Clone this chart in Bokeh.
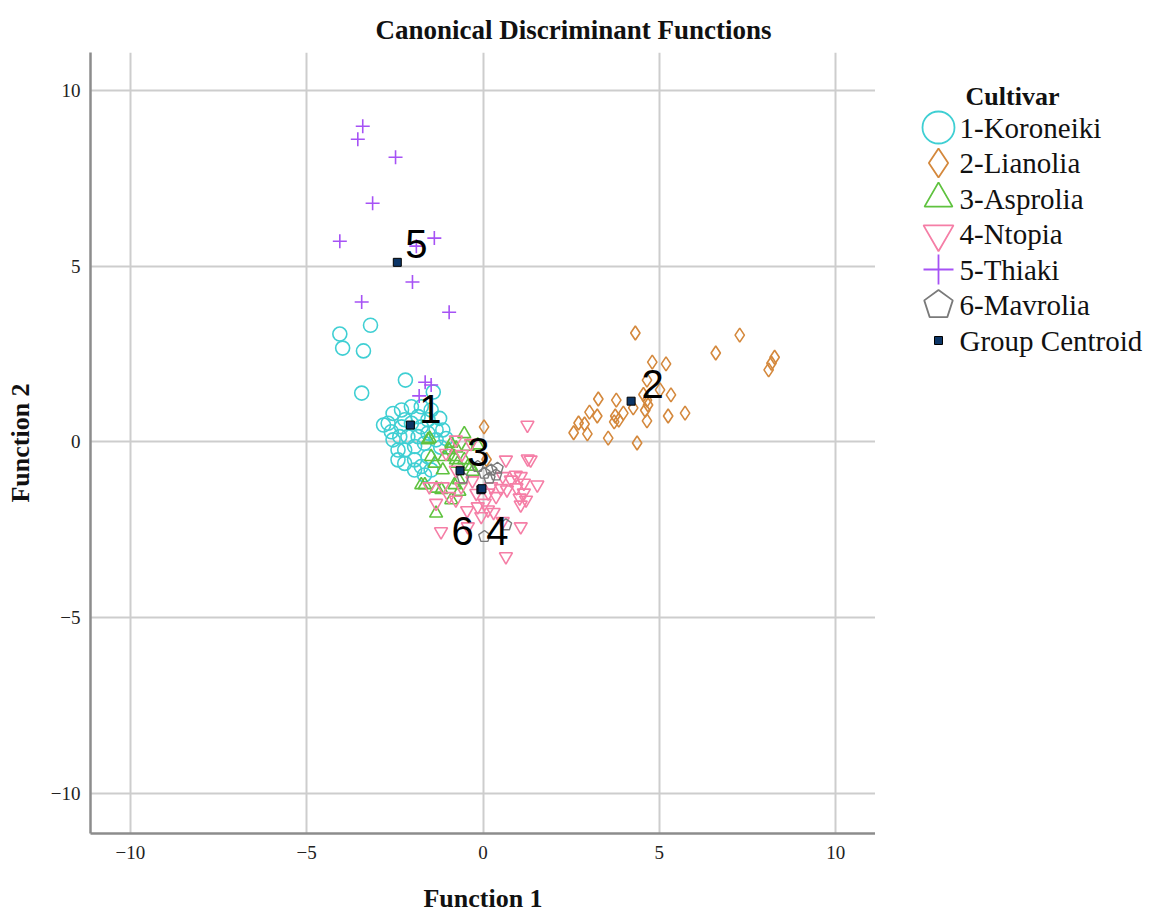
import math
from bokeh.plotting import figure
from bokeh.layouts import row
from bokeh.models import Range1d, FixedTicker
from bokeh.core.properties import value
from bokeh.embed import file_html
from bokeh.resources import INLINE

# ---------------- data ----------------
cultivars = ["1-Koroneiki", "2-Lianolia", "3-Asprolia", "4-Ntopia", "5-Thiaki", "6-Mavrolia"]
legend_extra = "Group Centroid"
ticks = [-10, -5, 0, 5, 10]

koroneiki = [(-3.19, 3.32), (-4.06, 3.07), (-3.98, 2.67), (-3.39, 2.59), (-3.44, 1.39), (-2.20, 1.76),
             (-1.41, 1.42), (-2.82, 0.48), (-2.69, 0.53), (-2.55, 0.81), (-2.31, 0.91), (-2.03, 1.00),
             (-1.75, 1.00), (-1.47, 0.91), (-1.23, 0.67), (-1.14, 0.34), (-1.33, 0.06), (-1.66, -0.04),
             (-1.94, -0.13), (-2.22, -0.23), (-2.41, -0.23), (-2.55, 0.06), (-2.60, 0.29), (-2.31, 0.43),
             (-2.03, 0.53), (-1.75, 0.43), (-1.56, 0.25), (-1.84, 0.15), (-2.13, 0.15), (-2.36, 0.15),
             (-2.41, -0.51), (-2.22, -0.61), (-1.94, -0.51), (-1.75, -0.70), (-1.47, -0.80), (-1.56, -0.42),
             (-2.22, 0.63), (-1.84, 0.72), (-1.56, 0.63), (-1.33, 0.34), (-1.66, -0.94), (-1.94, -0.80),
             (-1.20, -0.15), (-1.05, 0.10)]
lianolia = [(4.32, 3.10), (7.28, 3.04), (6.60, 2.53), (8.27, 2.41), (8.18, 2.24), (8.10, 2.05),
            (4.80, 2.27), (5.19, 2.22), (4.65, 1.76), (5.02, 1.48), (5.33, 1.34), (3.27, 1.22),
            (3.78, 1.19), (4.65, 1.19), (4.68, 1.05), (3.02, 0.85), (3.24, 0.74), (3.75, 0.74),
            (3.98, 0.82), (3.72, 0.57), (4.26, 0.97), (5.73, 0.82), (5.25, 0.74), (4.65, 0.60),
            (2.71, 0.54), (2.88, 0.51), (2.57, 0.26), (2.96, 0.23), (3.55, 0.11), (4.37, -0.03),
            (0.03, 0.43), (0.10, -0.50), (4.55, 1.35), (4.60, 0.90), (3.85, 0.62)]
asprolia = [(-1.56, 0.06), (-0.53, 0.23), (-1.75, -1.22), (-1.33, -2.03), (-0.15, -0.09), (-0.34, -0.70),
            (-0.90, -1.65), (-1.47, -0.42), (-0.96, -0.23), (-0.77, -0.51), (-1.14, -0.80), (-0.68, -1.08),
            (-1.51, 0.10), (-0.90, -0.04), (-0.76, -0.18), (-1.09, -0.42), (-1.37, -0.61), (-0.72, -0.61),
            (-0.43, -0.70), (-0.29, -0.84), (-0.81, -1.22), (-1.65, -1.22), (-1.32, -1.32), (-0.43, -0.13),
            (-0.81, -0.42), (-0.53, -0.51), (-1.18, -1.36), (-0.67, -1.41)]
ntopia = [(1.26, 0.48), (1.27, -0.48), (0.65, -0.51), (1.35, -0.51), (1.07, -0.98), (1.16, -1.17),
          (1.54, -1.22), (1.22, -1.65), (1.07, -2.41), (0.65, -3.26), (0.56, -2.26), (-0.19, -1.46),
          (-0.62, -1.27), (-0.96, -1.55), (-1.33, -1.74), (-1.19, -2.55), (-0.43, -2.41), (-0.77, -1.65),
          (0.05, -1.74), (0.14, -1.93), (-0.05, -2.12), (0.37, -1.55), (0.51, -1.32), (0.56, -0.98),
          (-0.77, 0.06), (-1.05, -0.32), (-0.77, -0.80), (-1.14, -1.27), (-1.52, -1.27), (-0.34, -0.04),
          (0.23, -1.27), (-0.15, -1.84), (0.93, -0.94), (1.16, -1.45), (1.04, -1.59), (1.07, -1.79),
          (0.79, -1.08), (0.68, -1.36), (-0.30, -1.10), (0.30, -2.00), (-0.45, -1.95), (0.15, -1.45),
          (-0.60, -0.35), (0.95, -1.30)]
thiaki = [(-3.41, 8.98), (-3.55, 8.61), (-2.48, 8.10), (-3.13, 6.79), (-4.06, 5.71), (-1.38, 5.80),
          (-1.89, 5.57), (-2.00, 4.55), (-3.44, 3.98), (-0.96, 3.69), (-1.64, 1.70), (-1.47, 1.62),
          (-1.81, 1.31)]
mavrolia = [(0.04, -0.89), (0.23, -0.80), (0.41, -0.75), (0.18, -1.03), (0.37, -0.94), (-0.57, -1.03),
            (0.04, -2.69), (0.65, -2.36), (-0.15, -0.70)]

centroid_x = [-2.06, 4.20, -0.65, -0.06, -2.43, -0.03]
centroid_y = [0.48, 1.16, -0.82, -1.36, 5.11, -1.33]
label_text = ["1", "2", "3", "4", "5", "6"]
label_x = [-1.49, 4.81, -0.13, 0.41, -1.89, -0.58]
label_y = [0.95, 1.66, -0.30, -2.52, 5.62, -2.52]

# ---------------- styles ----------------
colors = ["#3fcfd3", "#d4883c", "#5fc23f", "#f57ea6", "#a652f5", "#7a7a7a"]
markers = ["circle", "diamond", "triangle", "inverted_triangle", "cross", None]
plot_sizes = [14, 14, 13, 13, 14, None]
legend_sizes = [32, 29, 28, 30, 30, None]
centroid_fill = "#0c3566"
SERIF = "Liberation Serif"

groups = [koroneiki, lianolia, asprolia, ntopia, thiaki, mavrolia]

BT, BB = 52, 82
p = figure(width=875, height=915, x_range=Range1d(-11.13, 11.13), y_range=Range1d(-11.14, 11.08),
           output_backend="svg", toolbar_location=None,
           min_border_left=90, min_border_right=0, min_border_top=BT, min_border_bottom=BB)
p.outline_line_color = None
p.background_fill_color = "white"

p.title.text = "Canonical Discriminant Functions"
p.title.text_font = SERIF
p.title.text_font_size = "27px"
p.title.text_font_style = "bold"
p.title.text_color = "#111111"
p.title.align = "left"
p.title.offset = 285
p.title.standoff = 16

for ax in (p.xaxis[0], p.yaxis[0]):
    ax.ticker = FixedTicker(ticks=ticks)
    ax.major_tick_in = 0
    ax.major_tick_out = 0
    ax.minor_tick_line_color = None
    ax.major_tick_line_color = None
    ax.axis_line_color = "#8c8c8c"
    ax.axis_line_width = 2.5
    ax.major_label_text_font = SERIF
    ax.major_label_text_font_size = "19px"
    ax.major_label_text_color = "#222222"
    ax.axis_label_text_font = SERIF
    ax.axis_label_text_font_size = "26px"
    ax.axis_label_text_font_style = "bold"
    ax.axis_label_text_color = "#111111"
p.xaxis.axis_label = "Function 1"
p.yaxis.axis_label = "Function 2"
p.xaxis.major_label_standoff = 12
p.yaxis.major_label_standoff = 10
p.xaxis.axis_label_standoff = 22
p.yaxis.axis_label_standoff = 13
for g in (p.xgrid[0], p.ygrid[0]):
    g.ticker = FixedTicker(ticks=ticks)
    g.grid_line_color = "#cdcdcd"
    g.grid_line_width = 2

# points
for i, pts in enumerate(groups):
    xs = [a for a, b in pts]
    ys = [b for a, b in pts]
    if markers[i] is not None:
        p.scatter(xs, ys, marker=markers[i], size=plot_sizes[i], fill_color=None,
                  line_color=colors[i], line_width=1.6)
    else:
        rx = 6.0 / 35.25
        ry = 6.0 / 35.15
        pxs = [[x + rx * math.cos(math.radians(90 + 72 * k)) for k in range(5)] for x in xs]
        pys = [[y + ry * math.sin(math.radians(90 + 72 * k)) for k in range(5)] for y in ys]
        p.patches(pxs, pys, fill_color=None, line_color=colors[i], line_width=1.4)

p.scatter(centroid_x, centroid_y, marker="square", size=8, fill_color=centroid_fill,
          line_color="#000000", line_width=1)
p.text(label_x, label_y, text=label_text, text_font=value("Liberation Sans"), text_font_size="40px",
       text_align="center", text_baseline="middle", text_color="#000000")

# ---------------- legend panel (coordinates = screen pixels) ----------------
LW = 274
leg = figure(width=LW, height=915, x_range=Range1d(0, LW), y_range=Range1d(915 - BB, BT),
             output_backend="svg", toolbar_location=None,
             min_border_left=0, min_border_right=0, min_border_top=BT, min_border_bottom=BB)
leg.xaxis.visible = False
leg.yaxis.visible = False
leg.grid.visible = False
leg.outline_line_color = None

row_y = [127 + 35.5 * i for i in range(len(cultivars) + 1)]
mx = 63
for i in range(len(cultivars)):
    if markers[i] is not None:
        leg.scatter([mx], [row_y[i]], marker=markers[i], size=legend_sizes[i], fill_color=None,
                    line_color=colors[i], line_width=1.8)
    else:
        r = 15
        leg.patch([mx + r * math.cos(math.radians(90 + 72 * k)) for k in range(5)],
                  [row_y[i] - r * math.sin(math.radians(90 + 72 * k)) for k in range(5)],
                  fill_color=None, line_color=colors[i], line_width=1.8)
leg.scatter([mx], [row_y[-1]], marker="square", size=8, fill_color=centroid_fill,
            line_color="#000000", line_width=1)
leg.text([84] * len(row_y), row_y, text=cultivars + [legend_extra], text_font=value(SERIF),
         text_font_size="29px", text_align="left", text_baseline="middle", text_color="#111111")
leg.text([137], [96], text=["Cultivar"], text_font=value(SERIF), text_font_size="26px",
         text_font_style="bold", text_align="center", text_baseline="middle", text_color="#111111")

layout = row(p, leg)
open("out.html", "w").write(file_html(layout, INLINE))
